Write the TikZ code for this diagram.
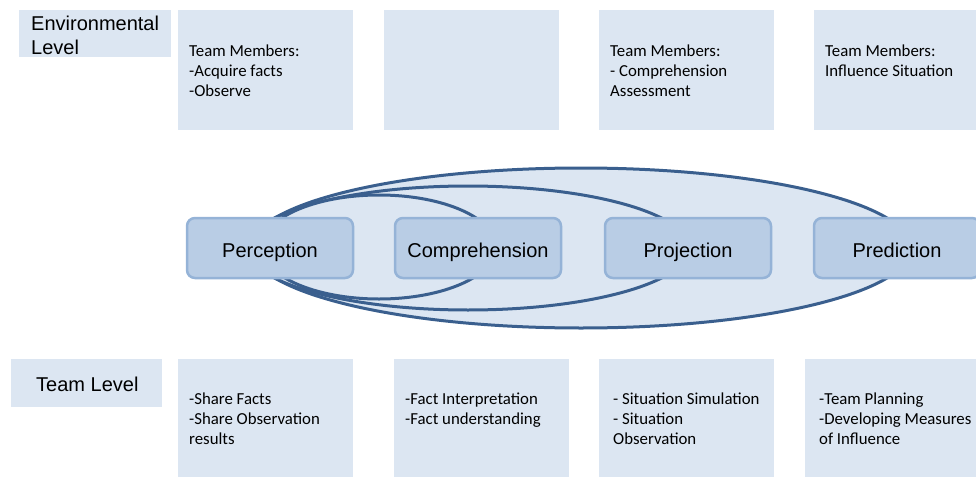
\documentclass[tikz,border=0pt]{standalone}
\usepackage{fontspec}
\newfontfamily\arialfont{Liberation Sans}
\newfontfamily\calibrifont{Carlito}
\newcommand\infofont{\calibrifont\fontsize{16.8}{20}\selectfont}
\newcommand\stagefont{\arialfont\fontsize{20}{24}\selectfont}

\definecolor{paleblue}{HTML}{DCE6F2}
\definecolor{stagefill}{HTML}{B9CDE5}
\definecolor{stageline}{HTML}{95B3D7}
\definecolor{ringblue}{HTML}{3A5F8E}

\tikzset{
  levelbox/.style={fill=paleblue, anchor=north west, inner sep=0pt},
  infobox/.style={fill=paleblue, anchor=north west, inner sep=0pt, minimum width=175pt, minimum height=120pt},
  infotext/.style={anchor=north west, inner sep=0pt, align=left, font=\infofont},
  stage/.style={draw=stageline, line width=2.5pt, fill=stagefill, rounded corners=8pt, minimum width=166pt, minimum height=60pt,
    text height=18pt, text depth=0pt, font=\stagefont},
  ring/.style={draw=ringblue, line width=3pt, fill=paleblue}
}

\begin{document}
\begin{tikzpicture}[x=1pt,y=-1pt]
\useasboundingbox (0,0) rectangle (976,476);

% environmental level
\node[levelbox, minimum width=152pt, minimum height=47pt] (envlevel) at (19,10) {};
\node[anchor=north west, inner sep=0pt, align=left, font=\stagefont] (envlabel) at (31,15.5) {Environmental\\Level};
\node[infobox] (env1) at (178,10) {};
\node[infobox] (env2) at (384,10) {};
\node[infobox] (env3) at (599,10) {};
\node[infobox] (env4) at (814,10) {};
\node[infotext] (envtext1) at (189,45) {Team Members:\\-Acquire facts\\-Observe};
\node[infotext] (envtext3) at (610,45) {Team Members:\\- Comprehension\\Assessment};
\node[infotext] (envtext4) at (825,45) {Team Members:\\Influence Situation};

% nested rings
\draw[ring] (581,248) ellipse [x radius=330pt, y radius=80pt];
\draw[ring] (468,248) ellipse [x radius=221pt, y radius=62pt];
\draw[ring] (379,247) ellipse [x radius=117pt, y radius=52pt];

% stages
\node[stage] (perception) at (270,248) {Perception};
\node[stage] (comprehension) at (478,248) {Comprehension};
\node[stage] (projection) at (688,248) {Projection};
\node[stage] (prediction) at (897,248) {Prediction};

% team level
\node[levelbox, minimum width=151pt, minimum height=48pt] (teamlevel) at (11,359) {};
\node[anchor=base west, inner sep=0pt, font=\stagefont] (teamlabel) at (36,391) {Team Level};
\node[infobox] (team1) at (178,359) {};
\node[infobox] (team2) at (394,359) {};
\node[infobox] (team3) at (599,359) {};
\node[infobox] (team4) at (805,359) {};
\node[infotext] (teamtext1) at (189,393) {-Share Facts\\-Share Observation\\results};
\node[infotext] (teamtext2) at (405,393) {-Fact Interpretation\\-Fact understanding};
\node[infotext] (teamtext3) at (613,393) {- Situation Simulation\\- Situation\\Observation};
\node[infotext] (teamtext4) at (819,393) {-Team Planning\\-Developing Measures\\of Influence};

\end{tikzpicture}
\end{document}
